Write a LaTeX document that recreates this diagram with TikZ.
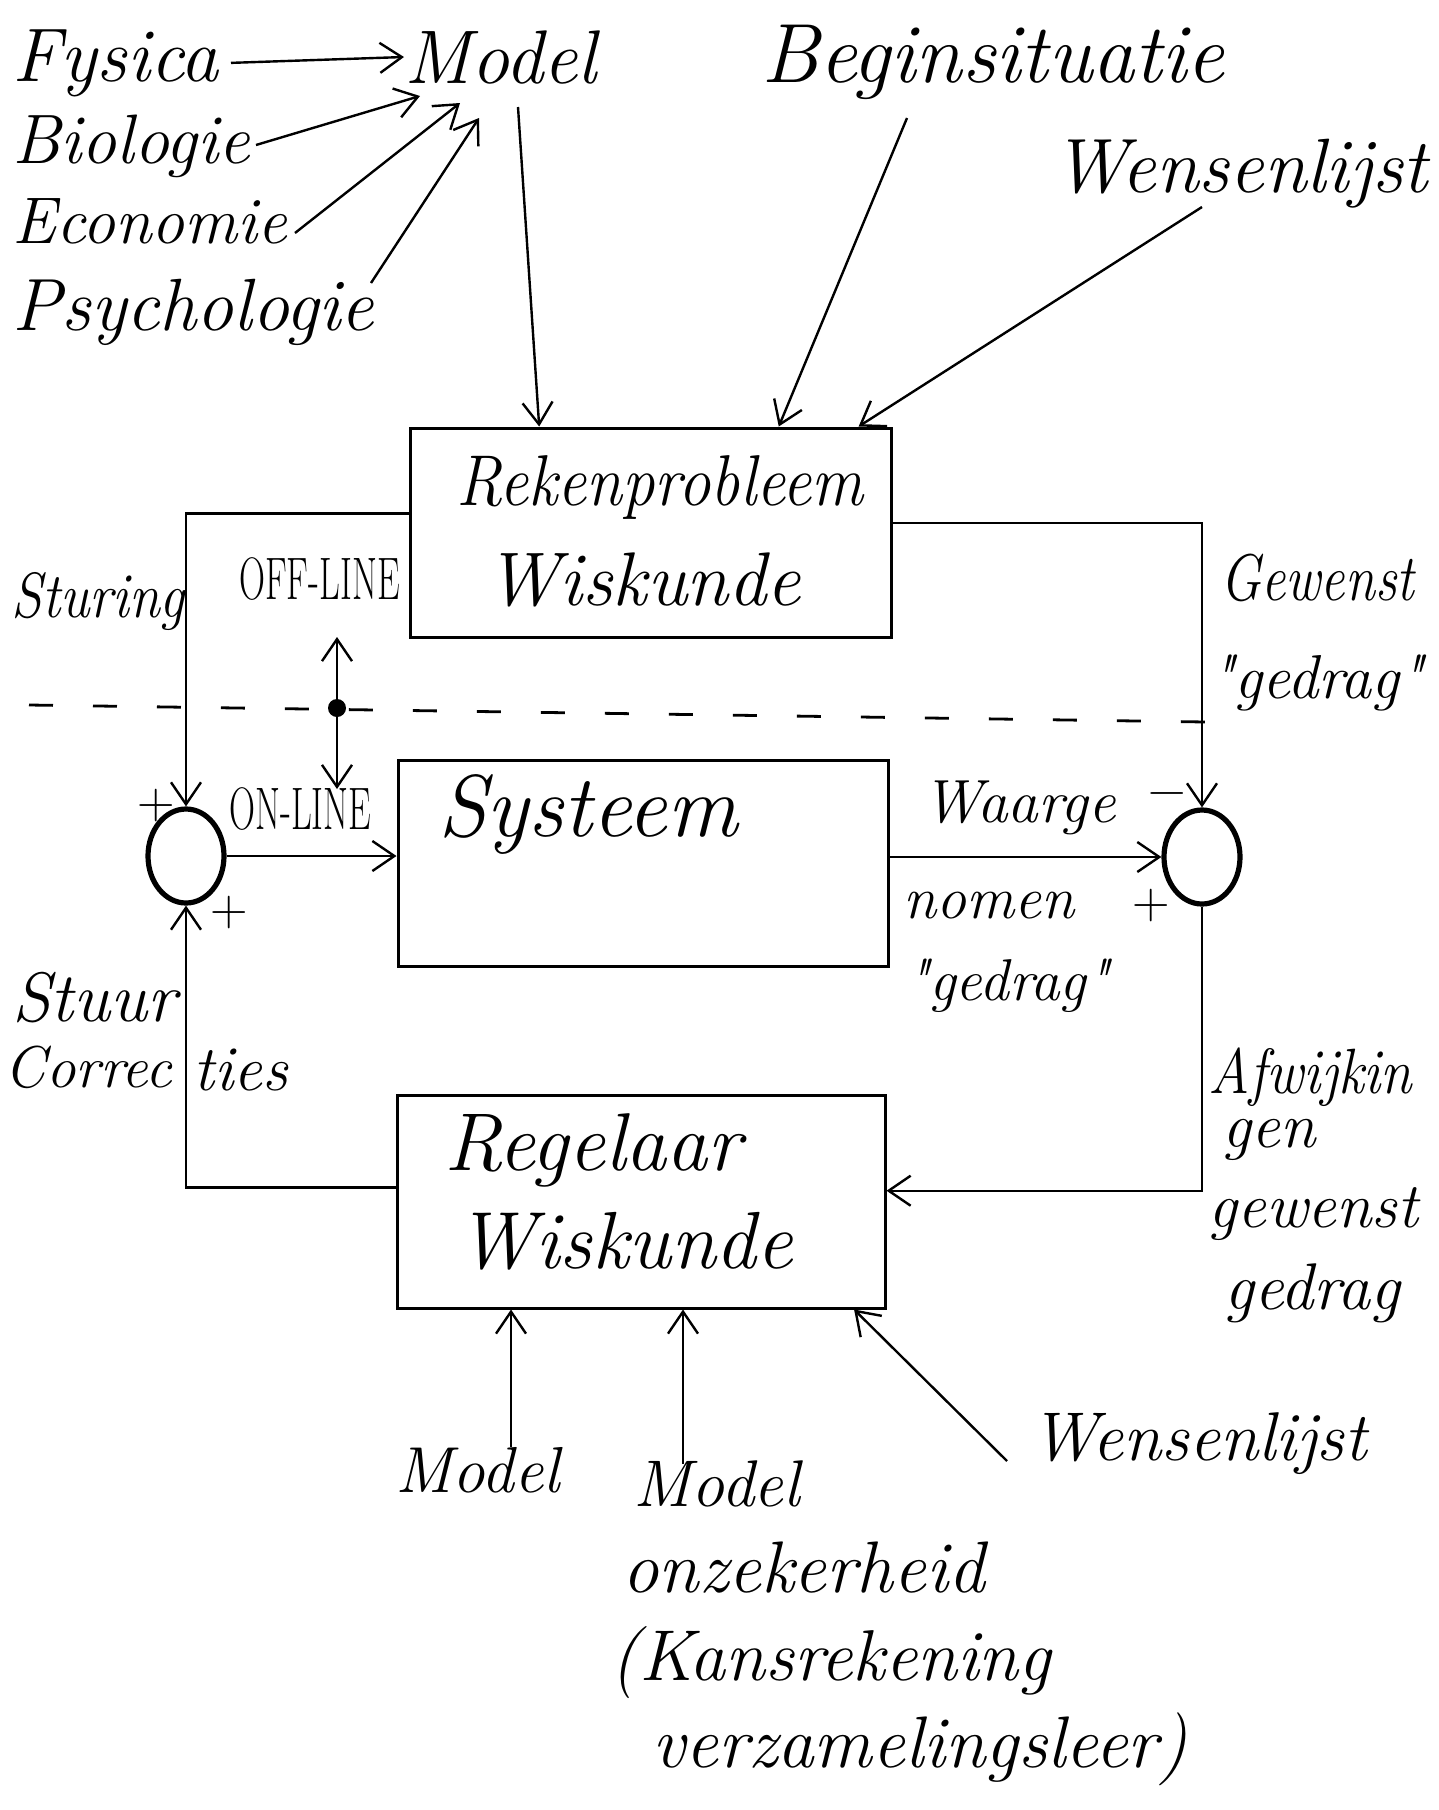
\documentclass[tikz,border=0pt]{standalone}
\usepackage{fontspec}
\usetikzlibrary{arrows.meta,shapes.geometric,calc}

% narrower set text, as the hand-lettered labels are condensed
\newcommand\smal[2]{\scalebox{#1}[1]{#2}}

\begin{document}
\begin{tikzpicture}[x=0.5pt,y=-0.5pt,
  lbl/.style={font=\fontsize{#1}{#1}\selectfont\itshape, inner sep=0pt, anchor=base west},
  lbl/.default=32,
  caps/.style={font=\fontsize{30}{34}\selectfont, inner sep=0pt, anchor=base west},
  teken/.style={font=\fontsize{26}{30}\selectfont, inner sep=0pt},
  blok/.style={draw, line width=1.5pt, inner sep=0pt},
  som/.style={ellipse, draw, line width=2.6pt, minimum width=38pt, minimum height=47pt, inner sep=0pt},
  lijn/.style={line width=1.2pt},
  pijl/.style={lijn, -{Straight Barb[length=11pt,width=15pt,line width=1.2pt]}},
  streep/.style={line width=1.4pt, dash pattern=on 12pt off 20pt}]

\useasboundingbox[fill=white] (0,0) rectangle (1439,1810);

% ---- disciplines feeding the model ----
\node[lbl=38] (fys) at (12,81) {Fysica};
\node[lbl=38] (mdl) at (404,83) {Model};
\node[lbl=35] (bio) at (12,163) {Biologie};
\node[lbl=33] (eco) at (12,243) {Economie};
\node[lbl=37] (psy) at (12,330) {Psychologie};
\node[lbl=42] (begin) at (761,82) {Beginsituatie};
\node[lbl=38.5] (wens) at (1052,192) {Wensenlijst};

\coordinate (bioStaart) at (256,145);
\coordinate (bioPunt) at (420,96);
\coordinate (ecoStaart) at (295,233);
\coordinate (ecoPunt) at (460,103);
\coordinate (psyStaart) at (371,283);
\coordinate (psyPunt) at (479,118);
\draw[pijl] (fys.east) ++(12,0) coordinate (fysStaart) -- (mdl.west);
\draw[pijl] (bioStaart) -- (bioPunt);
\draw[pijl] (ecoStaart) -- (ecoPunt);
\draw[pijl] (psyStaart) -- (psyPunt);

% ---- the three blocks ----
\node[blok, minimum width=240.5pt, minimum height=104.5pt] (rek) at (650.5,532.5) {};
\node[blok, minimum width=245pt, minimum height=103pt] (sys) at (643,863) {};
\node[blok, minimum width=244pt, minimum height=106.5pt] (reg) at (641,1201.5) {};

\node[lbl=36] (rekT1) at (456,505) {\smal{0.9}{Rekenprobleem}};
\node[lbl=38] (rekT2) at (485,605) {Wiskunde};
\node[lbl=44] (sysT) at (438,836) {Systeem};
\node[lbl=41] (regT1) at (444,1170) {Regelaar};
\node[lbl=40.5] (regT2) at (456,1268) {Wiskunde};

% ---- inputs of the computation problem ----
\coordinate (mdlStaart) at (518,107);
\coordinate (bgStaart) at (907,118);
\coordinate (wsStaart) at (1202,207);
\draw[pijl] (mdlStaart) -- ($(rek.north west)!0.27!(rek.north east)$);
\draw[pijl] (bgStaart) -- ($(rek.north west)!0.765!(rek.north east)$);
\draw[pijl] (wsStaart) -- ($(rek.north west)!0.93!(rek.north east)$);

% ---- summing points ----
\node[som] (somL) at (186,856) {};
\node[som] (somR) at (1202,857) {};

% ---- loop connections ----
\draw[pijl] ($(rek.north west)!0.41!(rek.south west)$) -| (somL.north);
\draw[pijl] ($(rek.north east)!0.455!(rek.south east)$) -| (somR.north);
\draw[pijl] (somL.east) -- (somL.east -| sys.west);
\draw[pijl] (somR.west -| sys.east) -- (somR.west);
\draw[pijl] (somR.south) |- ($(reg.north east)!0.45!(reg.south east)$);
\draw[pijl] ($(reg.north west)!0.435!(reg.south west)$) -| (somL.south);

% ---- off-line / on-line boundary ----
\coordinate (grensL) at (29,705);
\coordinate (grensR) at (1206,722);
\draw[streep] (grensL) -- (grensR);
\node[circle, fill, inner sep=0pt, minimum size=9pt] (knoop) at (337,708) {};
\coordinate (offPunt) at (337,637);
\coordinate (onPunt) at (337,789);
\draw[pijl] (knoop) -- (offPunt);
\draw[pijl] (knoop) -- (onPunt);

\node[caps] (off) at (239,599) {\smal{0.6}{OFF-LINE}};
\node[caps] (on) at (229,829) {\smal{0.6}{ON-LINE}};

% ---- signal labels ----
\node[lbl=32] (stur) at (11,617) {\smal{0.87}{Sturing}};
\node[lbl=33] (gew1) at (1220,600) {\smal{0.82}{Gewenst}};
\node[lbl=31] (gew2) at (1210,698) {\textquotedbl gedrag\textquotedbl};
\node[lbl=30.5] (waar1) at (922,822) {Waarge};
\node[lbl=30] (waar2) at (903,918) {nomen};
\node[lbl=29.5] (waar3) at (906,1000) {\textquotedbl gedrag\textquotedbl};
\node[lbl=35] (stuur1) at (12,1021) {Stuur};
\node[lbl=29.5, anchor=base east] (stuur2) at (172,1087) {Correc};
\node[lbl=32] (stuur3) at (193,1090) {ties};
\node[lbl=32] (afw1) at (1208,1093) {\smal{0.89}{Afwijkin}};
\node[lbl=32] (afw2) at (1222,1147) {gen};
\node[lbl=32] (afw3) at (1208,1227) {gewenst};
\node[lbl=33] (afw4) at (1224,1309) {gedrag};

\node[teken] (plusL1) at (156,806) {+};
\node[teken] (plusL2) at (229,913) {+};
\node[teken] (minR) at (1167,800) {\textminus};
\node[teken] (plusR) at (1151,906) {+};

% ---- inputs of the controller ----
\node[lbl=32.5] (mdl2) at (395,1492) {Model};
\node[lbl=33] (onz1) at (633,1506) {Model};
\node[lbl=36.5] (onz2) at (622,1592) {onzekerheid};
\node[lbl=36] (onz3) at (610,1680) {(Kansrekening};
\node[lbl=36.5] (onz4) at (652,1767) {verzamelingsleer)};
\node[lbl=34.5] (wens2) at (1030,1460) {Wensenlijst};

\coordinate (m1Staart) at (511,1447);
\coordinate (m2Staart) at (683,1464);
\coordinate (w2Staart) at (1007,1461);
\draw[pijl] (m1Staart) -- (m1Staart |- reg.south);
\draw[pijl] (m2Staart) -- (m2Staart |- reg.south);
\draw[pijl] (w2Staart) -- ($(reg.south west)!0.934!(reg.south east)$);
\end{tikzpicture}
\end{document}
